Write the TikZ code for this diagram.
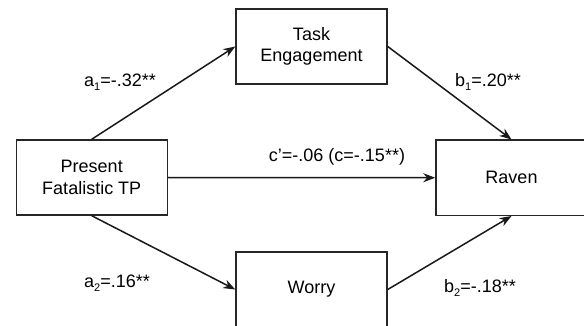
\documentclass[tikz,border=0pt]{standalone}
\usepackage{fontspec}
\setmainfont{Liberation Sans}
\usetikzlibrary{arrows.meta}
\newcommand{\lowsub}[1]{\raisebox{-4.5pt}{\fontsize{11}{11}\selectfont #1}}
\begin{document}
\begin{tikzpicture}[x=1pt,y=-1pt,
  box/.style={draw=black!85,line width=1.5pt,minimum width=151pt,minimum height=75pt,
    inner sep=0pt,align=center,font=\fontsize{18}{21.6}\selectfont},
  lab/.style={inner sep=0pt,font=\fontsize{18}{21.6}\selectfont},
  conn/.style={draw=black!90,line width=1.5pt,-{Stealth[length=12pt,width=9pt]}}]
\useasboundingbox (0,0) rectangle (584,326);
\clip (0,0) rectangle (584,326);
\fill[white] (0,0) rectangle (584,326);
\node[box] (pres) at (91.75,177.5) {Present\\Fatalistic TP};
\node[box] (task) at (311.5,46.5) {Task\\Engagement};
\node[box] (rav) at (511.5,177.75) {Raven};
\node[box] (wor) at (311.5,289.5) {Worry};
\draw[conn] (pres.north) -- (task.west);
\draw[conn] (task.east) -- (rav.north);
\draw[conn] (pres.east) -- (rav.west);
\draw[conn] (pres.south) -- (wor.west);
\draw[conn] (wor.east) -- (rav.south);
\node[lab] (la1) at (120,82) {a\lowsub{1}=-.32**};
\node[lab] (lb1) at (488,82) {b\lowsub{1}=.20**};
\node[lab] (lc) at (337,157) {c’=-.06 (c=-.15**)};
\node[lab] (la2) at (117,283) {a\lowsub{2}=.16**};
\node[lab] (lb2) at (480,288) {b\lowsub{2}=-.18**};
\end{tikzpicture}
\end{document}
